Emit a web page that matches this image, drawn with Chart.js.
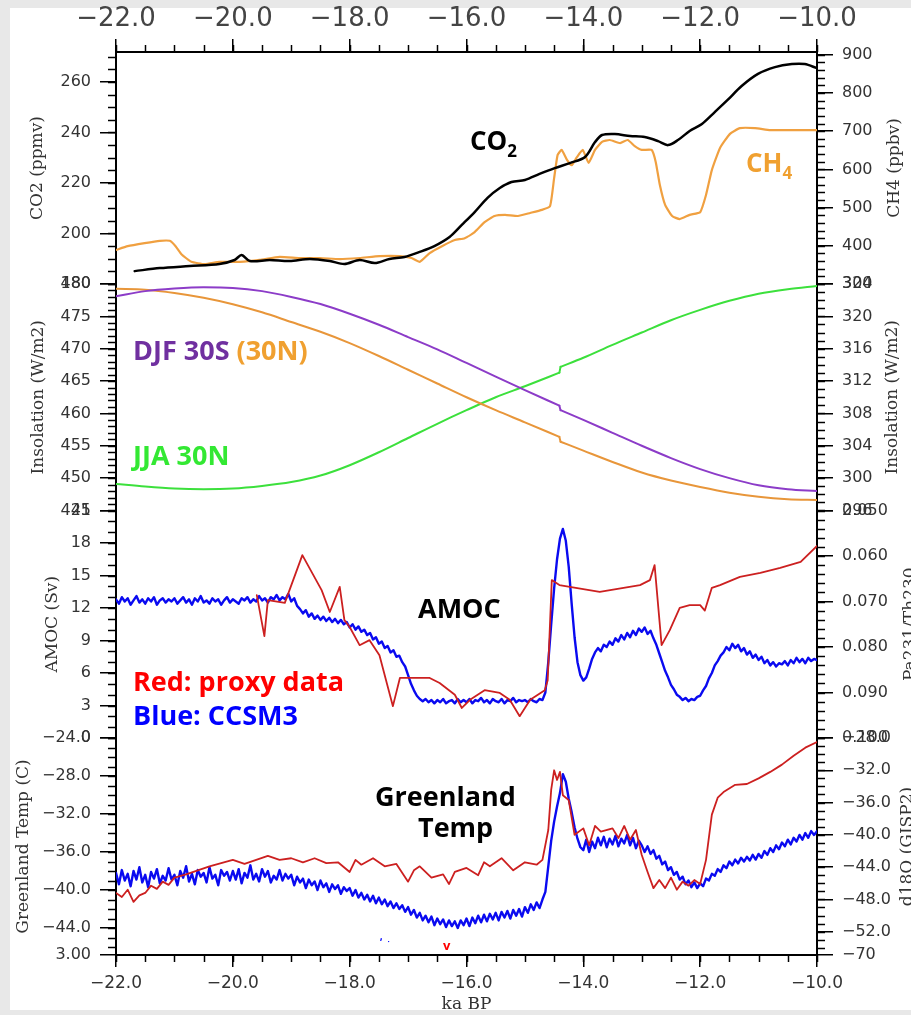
<!DOCTYPE html>
<html><head><meta charset="utf-8">
<script src="https://cdn.jsdelivr.net/npm/chart.js@4.4.1/dist/chart.umd.min.js"></script>
<style>html,body{margin:0;padding:0;background:#fff;}canvas{display:block;}</style>
</head><body>
<canvas id="c" width="911" height="1015"></canvas>
<script>
// ---------------- DATA ----------------
const xTickValues = [-22, -20, -18, -16, -14, -12, -10];
const xTickLabels = ['\u221222.0', '\u221220.0', '\u221218.0', '\u221216.0', '\u221214.0', '\u221212.0', '\u221210.0'];

const co2Ka = [-21.68,-21.25,-20.74,-20.23,-19.97,-19.85,-19.71,-19.37,-19.03,-18.68,-18.34,-18.09,-17.83,-17.57,-17.32,-17.06,-16.80,-16.55,-16.29,-16.08,-15.86,-15.64,-15.43,-15.23,-15.00,-14.75,-14.49,-14.23,-13.97,-13.80,-13.68,-13.46,-13.20,-12.95,-12.72,-12.55,-12.38,-12.18,-11.97,-11.75,-11.53,-11.29,-11.01,-10.72,-10.43,-10.21,-10.00];
const co2Ppmv = [185.1,186.3,187.1,187.9,189.5,191.5,189.1,189.5,189.1,189.9,189.1,187.9,189.5,188.3,189.9,190.7,192.7,195.0,198.6,203.4,208.5,214.1,218.0,220.4,221.2,223.6,225.9,227.9,230.3,236.2,239.0,239.4,238.6,238.2,236.6,235.0,237.0,240.6,243.4,248.1,252.9,258.4,263.2,265.9,267.1,267.1,265.5];

const ch4Ka = [-22.00,-21.80,-21.51,-21.25,-21.08,-20.98,-20.88,-20.71,-20.48,-20.23,-19.88,-19.54,-19.20,-18.86,-18.51,-18.17,-17.83,-17.49,-17.14,-16.94,-16.80,-16.63,-16.42,-16.20,-16.03,-15.86,-15.69,-15.52,-15.34,-15.12,-14.91,-14.71,-14.57,-14.50,-14.44,-14.37,-14.28,-14.20,-14.11,-14.01,-13.91,-13.80,-13.68,-13.55,-13.37,-13.24,-13.12,-13.00,-12.83,-12.76,-12.69,-12.60,-12.48,-12.35,-12.18,-12.00,-11.90,-11.80,-11.66,-11.49,-11.32,-11.06,-10.80,-10.46,-10.00];
const ch4Ppbv = [389,399,407,413,413,399,378,358,352,358,358,363,371,368,368,365,368,373,373,368,358,381,399,415,420,436,462,478,481,478,486,494,504,577,638,651,625,611,632,651,617,651,672,677,669,677,661,651,651,619,559,507,478,470,481,488,533,598,656,693,708,708,703,703,703];

const insKa = [-22,-21.5,-21,-20.5,-20,-19.5,-19,-18.5,-18,-17.5,-17,-16.5,-16,-15.5,-15,-14.41,-14.39,-14,-13.5,-13,-12.5,-12,-11.5,-11,-10.5,-10];
const djf30S = [478.1,478.9,479.3,479.5,479.4,478.9,478.0,476.9,475.4,473.7,471.8,469.9,467.8,465.7,463.6,461.2,460.5,459.0,457.0,455.0,453.1,451.4,450.0,448.9,448.3,448.0];
const djf30N = [323.4,323.3,322.9,322.3,321.5,320.5,319.3,318.1,316.7,315.1,313.4,311.7,310.0,308.4,306.9,305.1,304.5,303.4,302.0,300.7,299.7,298.9,298.2,297.7,297.4,297.3];
const jja30N = [449.1,448.7,448.4,448.3,448.4,448.8,449.4,450.4,452.0,454.0,456.2,458.4,460.5,462.5,464.2,466.3,467.2,468.6,470.6,472.5,474.4,476.0,477.4,478.5,479.2,479.7];
const insStepKa = -14.4;

const amocRedKa = [-19.59,-19.46,-19.40,-19.11,-18.81,-18.48,-18.34,-18.17,-18.09,-18.00,-17.83,-17.66,-17.49,-17.26,-17.14,-16.63,-16.46,-16.20,-16.08,-15.94,-15.69,-15.43,-15.26,-15.09,-14.91,-14.66,-14.61,-14.54,-14.41,-13.72,-13.03,-12.86,-12.78,-12.66,-12.52,-12.35,-12.18,-12.00,-11.92,-11.80,-11.66,-11.32,-10.97,-10.63,-10.28,-10.00];
const amocRedPaTh = [0.0686,0.0776,0.0697,0.0703,0.0598,0.0675,0.0723,0.0668,0.0741,0.0756,0.0796,0.0785,0.0818,0.0930,0.0868,0.0868,0.0879,0.0905,0.0934,0.0916,0.0895,0.0901,0.0916,0.0952,0.0916,0.0895,0.0873,0.0653,0.0664,0.0679,0.0664,0.0653,0.0620,0.0796,0.0763,0.0714,0.0708,0.0708,0.0720,0.0670,0.0664,0.0646,0.0637,0.0626,0.0613,0.0578];

// CCSM3 model output, sampled every 0.05 ka from -22 ka
const modelStartKa = -22;
const modelStepKa = 0.05;
const amocModelSv = [
12.8,12.4,13.0,12.6,12.9,12.3,12.7,13.1,12.5,12.8,12.4,12.9,12.6,13.0,12.3,12.7,12.9,12.5,12.8,12.6,
12.9,12.4,12.7,13.0,12.5,12.8,12.3,12.9,12.6,13.1,12.5,12.7,12.4,12.9,12.6,12.8,12.3,12.7,13.0,12.5,
12.8,12.6,12.4,12.9,12.7,13.0,12.5,12.8,12.6,13.1,12.7,12.9,12.5,13.0,12.8,13.2,12.7,13.0,12.8,13.3,
12.6,12.9,12.2,11.9,11.5,11.8,11.2,11.5,11.0,11.3,10.9,11.2,10.8,11.1,10.7,11.0,10.6,10.9,10.5,10.7,
10.2,10.5,10.0,10.3,9.8,10.0,9.5,9.7,9.1,9.3,8.7,8.9,8.3,8.5,7.9,8.1,7.5,7.6,7.0,6.6,
5.8,5.0,4.4,3.9,3.6,3.4,3.6,3.3,3.5,3.2,3.5,3.3,3.6,3.2,3.4,3.5,3.2,3.6,3.3,3.5,
3.3,3.6,3.2,3.5,3.4,3.7,3.3,3.5,3.2,3.6,3.4,3.3,3.6,3.2,3.5,3.4,3.7,3.3,3.5,3.4,
3.5,3.3,3.6,3.4,3.3,3.6,3.5,4.2,7.0,10.5,13.8,16.5,18.4,19.3,18.2,15.8,12.4,9.3,7.0,5.8,
5.3,5.6,6.4,7.3,7.9,8.3,8.0,8.6,8.4,8.9,8.6,9.2,8.9,9.5,9.1,9.7,9.3,9.9,9.5,10.1,
9.8,10.2,9.6,9.9,9.2,8.6,7.8,7.0,6.2,5.6,4.9,4.5,4.0,3.8,3.5,3.7,3.4,3.6,3.5,3.8,
3.9,4.4,4.8,5.5,6.0,6.7,7.1,7.6,7.9,8.4,8.1,8.7,8.3,8.6,8.0,8.3,7.7,8.0,7.4,7.7,
7.2,7.5,6.9,7.2,6.7,7.0,6.6,6.9,6.8,7.1,6.7,7.2,6.9,7.4,7.0,7.3,6.9,7.4,7.1,7.3,
7.2];
const tempModelC = [
-38.2,-39.4,-37.9,-39.0,-38.3,-39.6,-38.0,-38.9,-37.6,-39.2,-38.4,-39.7,-38.1,-38.8,-37.8,-39.3,-38.5,-39.0,-37.7,-38.9,
-38.4,-39.5,-38.0,-38.7,-37.5,-39.1,-38.3,-39.4,-37.9,-38.6,-38.2,-39.2,-37.6,-38.8,-38.4,-39.5,-37.9,-38.5,-38.1,-39.0,
-38.0,-38.9,-37.8,-39.3,-38.2,-38.7,-37.4,-38.9,-38.3,-39.1,-37.8,-38.6,-38.0,-39.2,-38.5,-38.9,-37.9,-39.0,-38.3,-38.8,
-38.4,-39.5,-38.6,-39.2,-38.8,-39.8,-38.9,-39.5,-39.1,-40.0,-39.0,-39.7,-39.3,-40.2,-39.4,-39.9,-39.5,-40.4,-39.7,-40.1,
-39.8,-40.6,-40.0,-40.8,-40.3,-41.0,-40.5,-41.2,-40.6,-41.4,-40.8,-41.5,-41.0,-41.7,-41.2,-41.9,-41.4,-42.0,-41.6,-42.3,
-41.8,-42.6,-42.1,-42.9,-42.4,-43.2,-42.7,-43.4,-42.8,-43.7,-43.0,-43.6,-43.1,-43.9,-43.2,-43.8,-43.3,-44.0,-43.2,-43.7,
-43.0,-43.8,-42.9,-43.5,-42.7,-43.4,-42.6,-43.3,-42.5,-43.1,-42.4,-43.2,-42.3,-42.9,-42.2,-43.0,-42.1,-42.7,-42.0,-42.8,
-41.8,-42.4,-41.5,-42.1,-41.3,-41.9,-41.0,-40.2,-37.5,-34.8,-32.8,-31.2,-29.8,-27.8,-28.6,-30.4,-31.8,-33.4,-34.6,-35.5,
-35.8,-34.7,-36.0,-34.9,-35.6,-34.5,-35.3,-34.4,-35.5,-34.6,-35.2,-34.3,-35.4,-34.6,-35.1,-34.2,-35.3,-34.5,-35.6,-34.8,
-35.3,-36.0,-35.4,-36.2,-35.8,-36.7,-36.4,-37.3,-37.0,-37.9,-37.6,-38.4,-38.1,-38.9,-38.6,-39.4,-39.0,-39.7,-39.2,-39.8,
-39.3,-39.6,-38.8,-39.0,-38.3,-38.5,-37.8,-38.1,-37.4,-37.7,-37.0,-37.4,-36.8,-37.2,-36.6,-37.0,-36.5,-36.9,-36.3,-36.8,
-36.2,-36.6,-35.9,-36.3,-35.6,-36.0,-35.3,-35.7,-35.0,-35.4,-34.7,-35.2,-34.5,-34.9,-34.2,-34.7,-34.0,-34.5,-33.8,-34.2,
-33.8];

const tempRedKa = [-22.0,-21.9,-21.8,-21.7,-21.6,-21.5,-21.4,-21.3,-21.2,-21.1,-21.0,-20.8,-20.6,-20.4,-20.2,-20.0,-19.8,-19.6,-19.4,-19.2,-19.0,-18.8,-18.6,-18.4,-18.2,-18.0,-17.9,-17.8,-17.6,-17.4,-17.2,-17.0,-16.9,-16.8,-16.6,-16.4,-16.3,-16.2,-16.0,-15.8,-15.7,-15.6,-15.4,-15.2,-15.0,-14.8,-14.7,-14.6,-14.55,-14.5,-14.45,-14.4,-14.35,-14.25,-14.15,-14.0,-13.9,-13.8,-13.7,-13.5,-13.4,-13.3,-13.2,-13.1,-13.0,-12.9,-12.8,-12.7,-12.6,-12.5,-12.4,-12.3,-12.2,-12.1,-12.0,-11.9,-11.8,-11.7,-11.6,-11.4,-11.2,-11.0,-10.8,-10.6,-10.4,-10.2,-10.0];
const tempRedD18O = [-47.2,-47.7,-46.8,-48.3,-47.5,-47.2,-46.3,-46.7,-45.8,-46.2,-45.3,-44.9,-44.4,-43.9,-43.5,-43.1,-43.6,-43.1,-42.6,-43.1,-42.9,-43.4,-42.9,-43.5,-43.4,-44.6,-43.1,-43.7,-42.9,-43.9,-43.6,-45.8,-44.4,-43.9,-45.3,-44.9,-46.1,-44.6,-44.1,-45.0,-43.4,-43.9,-42.9,-44.4,-43.4,-43.7,-43.1,-39.4,-34.4,-32.0,-33.2,-32.2,-35.1,-35.7,-40.0,-39.2,-41.3,-38.9,-39.6,-39.2,-40.4,-38.9,-40.6,-39.4,-42.5,-44.6,-46.6,-45.6,-46.6,-45.3,-46.8,-45.8,-46.3,-45.6,-46.1,-43.1,-37.5,-35.4,-34.7,-33.8,-33.7,-33.0,-32.2,-31.3,-30.2,-29.2,-28.5];

// axis tick values and labels
const co2Ticks = [180, 200, 220, 240, 260];
const co2Labels = ['180', '200', '220', '240', '260'];
const ch4Ticks = [300, 400, 500, 600, 700, 800, 900];
const ch4Labels = ['300', '400', '500', '600', '700', '800', '900'];
const insLTicks = [445, 450, 455, 460, 465, 470, 475, 480];
const insLLabels = ['445', '450', '455', '460', '465', '470', '475', '480'];
const insRTicks = [296, 300, 304, 308, 312, 316, 320, 324];
const insRLabels = ['296', '300', '304', '308', '312', '316', '320', '324'];
const amocTicks = [0, 3, 6, 9, 12, 15, 18, 21];
const amocLabels = ['0', '3', '6', '9', '12', '15', '18', '21'];
const paTicks = [0.05, 0.06, 0.07, 0.08, 0.09, 0.10];
const paLabels = ['0.050', '0.060', '0.070', '0.080', '0.090', '0.100'];
const tempTicks = [-46.84, -44, -40, -36, -32, -28, -24];
const tempLabels = ['3.00', '\u221244.0', '\u221240.0', '\u221236.0', '\u221232.0', '\u221228.0', '\u221224.0'];
const d18Ticks = [-54.89, -52, -48, -44, -40, -36, -32, -28];
const d18Labels = ['\u221270', '\u221252.0', '\u221248.0', '\u221244.0', '\u221240.0', '\u221236.0', '\u221232.0', '\u221228.0'];

// ---------------- CHART ----------------
const LEFT_W = 116, RIGHT_W = 94, TOP_H = 52, BOTTOM_H = 60;
const pts = (xs, ys) => xs.map((x, i) => ({x: x, y: ys[i]}));
const modelKa = amocModelSv.map((_, i) => +(modelStartKa + i * modelStepKa).toFixed(2));
const stepIdx = insKa.findIndex(k => k > insStepKa);
const before = a => a.slice(0, stepIdx), after = a => a.slice(stepIdx), joint = a => a.slice(stepIdx - 1, stepIdx + 1);

function yScale(o) {
  return {
    type: 'linear', position: o.pos,
    stack: o.pos === 'left' ? 'leftStack' : 'rightStack',
    stackWeight: o.sw, weight: o.w,
    min: o.min, max: o.max, reverse: !!o.reverse,
    afterBuildTicks: s => { s.ticks = o.ticks.map(v => ({value: v})); },
    afterFit: s => { s.width = o.pos === 'left' ? LEFT_W : RIGHT_W; },
    grid: {drawOnChartArea: false, drawTicks: true, tickLength: 16, color: '#000', lineWidth: 1.5},
    border: {display: true, color: '#000', width: 2},
    ticks: {autoSkip: false, font: {family: 'DejaVu Sans', size: 16}, color: '#333', padding: 9,
            callback: (v, i) => o.labels[i]},
    title: o.title ? {display: true, text: o.title, font: {family: 'DejaVu Serif', size: 17}, color: '#333',
            padding: {top: o.tp, bottom: 0}} : {display: false}
  };
}

const minorSteps = {co2: 5, ch4: 20, insL: 1, insR: 1, amoc: 1, pa: 0.002, tempL: 1, d18: 1, x: 0.5, x2: 0.5};

const framePlugin = {
  id: 'frame',
  beforeDraw(chart) {
    const c = chart.ctx;
    c.save();
    c.fillStyle = '#e8e8e8'; c.fillRect(0, 0, 911, 1015);
    c.fillStyle = '#ffffff'; c.fillRect(10, 8, 901, 1002);
    c.restore();
  },
  afterDraw(chart) {
    const c = chart.ctx;
    c.save();
    c.strokeStyle = '#000'; c.lineWidth = 1.5;
    for (const id in minorSteps) {
      const s = chart.scales[id]; const st = minorSteps[id];
      const lo = Math.min(s.min, s.max), hi = Math.max(s.min, s.max);
      const n0 = Math.ceil(lo / st - 1e-6), n1 = Math.floor(hi / st + 1e-6);
      for (let n = n0; n <= n1; n++) {
        const p = Math.round(s.getPixelForValue(n * st)) + 0.5;
        c.beginPath();
        if (s.position === 'left') { c.moveTo(s.right, p); c.lineTo(s.right - 8, p); }
        else if (s.position === 'right') { c.moveTo(s.left, p); c.lineTo(s.left + 8, p); }
        else if (s.position === 'top') { c.moveTo(p, s.bottom); c.lineTo(p, s.bottom - 7); }
        else { c.moveTo(p, s.top); c.lineTo(p, s.top + 7); }
        c.stroke();
      }
    }
    c.font = '17px "DejaVu Serif"'; c.fillStyle = '#333'; c.textAlign = 'center'; c.textBaseline = 'middle';
    const rt = [['ch4', 'CH4 (ppbv)', 895], ['insR', 'Insolation (W/m2)', 893], ['pa', 'Pa231/Th230', 911], ['d18', 'd18O (GISP2)', 908]];
    for (const [id, t, x] of rt) {
      const s = chart.scales[id];
      c.save(); c.translate(x, (s.top + s.bottom) / 2); c.rotate(-Math.PI / 2); c.fillText(t, 0, 0); c.restore();
    }
    const F = sz => 'bold ' + sz + 'px "Open Sans"';
    c.textAlign = 'left'; c.textBaseline = 'middle';
    const txt = (t, x, y, col, sz) => { c.font = F(sz); c.fillStyle = col; c.fillText(t, x, y); return x + c.measureText(t).width; };
    let e = txt('CO', 470, 143, '#000', 26); txt('2', e, 152, '#000', 17);
    e = txt('CH', 746, 165, '#F0A030', 26); txt('4', e, 174, '#F0A030', 17);
    e = txt('DJF 30S ', 133, 352, '#7030A0', 27); txt('(30N)', e, 352, '#F0A030', 27);
    txt('JJA 30N', 133, 457, '#33E833', 27);
    txt('AMOC', 418, 610, '#000', 27);
    txt('Red: proxy data', 133, 683, '#FF0000', 27);
    txt('Blue: CCSM3', 133, 717, '#0000FF', 27);
    txt('Greenland', 375, 798, '#000', 27);
    txt('Temp', 418, 829, '#000', 27);
    txt('v', 443, 946, '#FF0000', 13);
    txt('\u02bc  \u02d1', 380, 943, '#0000FF', 10);
    c.restore();
  }
};

function insDs(label, ys, axis, color) {
  const base = {label: label, yAxisID: axis, xAxisID: 'x', borderColor: color, borderWidth: 2, cubicInterpolationMode: 'monotone'};
  return [Object.assign({}, base, {data: pts(before(insKa), before(ys))}),
          Object.assign({}, base, {data: pts(joint(insKa), joint(ys)), cubicInterpolationMode: 'default', tension: 0}),
          Object.assign({}, base, {data: pts(after(insKa), after(ys))})];
}

function build() {
  new Chart(document.getElementById('c'), {
    type: 'line',
    data: {
      datasets: [
        {label: 'CO2', data: pts(co2Ka, co2Ppmv), yAxisID: 'co2', xAxisID: 'x', borderColor: '#000', borderWidth: 2.5, tension: 0.3},
        {label: 'CH4', data: pts(ch4Ka, ch4Ppbv), yAxisID: 'ch4', xAxisID: 'x', borderColor: '#F0A040', borderWidth: 2.2, tension: 0.15},
        ...insDs('DJF 30S', djf30S, 'insL', '#8C3CC8'),
        ...insDs('DJF 30N', djf30N, 'insR', '#E8963A'),
        ...insDs('JJA 30N', jja30N, 'insL', '#3CE03C'),
        {label: 'Pa/Th', data: pts(amocRedKa, amocRedPaTh), yAxisID: 'pa', xAxisID: 'x', borderColor: '#CC2020', borderWidth: 1.8},
        {label: 'AMOC', data: pts(modelKa, amocModelSv), yAxisID: 'amoc', xAxisID: 'x', borderColor: '#0A0AF0', borderWidth: 2.4},
        {label: 'd18O', data: pts(tempRedKa, tempRedD18O), yAxisID: 'd18', xAxisID: 'x', borderColor: '#CC2020', borderWidth: 1.8},
        {label: 'Temp', data: pts(modelKa, tempModelC), yAxisID: 'tempL', xAxisID: 'x', borderColor: '#0A0AF0', borderWidth: 2.4}
      ]
    },
    options: {
      responsive: false, animation: false, devicePixelRatio: 1,
      layout: {padding: 0},
      elements: {point: {radius: 0}, line: {borderJoinStyle: 'round', borderCapStyle: 'round', fill: false}},
      plugins: {legend: {display: false}, tooltip: {enabled: false}},
      scales: {
        x: {type: 'linear', position: 'bottom', min: -22, max: -10,
          afterBuildTicks: s => { s.ticks = xTickValues.map(v => ({value: v})); },
          afterFit: s => { s.height = BOTTOM_H; },
          grid: {drawOnChartArea: false, drawTicks: true, tickLength: 12, color: '#000', lineWidth: 1.5},
          border: {display: true, color: '#000', width: 2},
          ticks: {autoSkip: false, maxRotation: 0, font: {family: 'DejaVu Sans', size: 17}, color: '#333', padding: 6, callback: (v, i) => xTickLabels[i]},
          title: {display: true, text: 'ka BP', font: {family: 'DejaVu Serif', size: 17}, color: '#333', padding: {top: 0, bottom: 0}}},
        x2: {type: 'linear', position: 'top', min: -22, max: -10,
          afterBuildTicks: s => { s.ticks = xTickValues.map(v => ({value: v})); },
          afterFit: s => { s.height = TOP_H; },
          grid: {drawOnChartArea: false, drawTicks: true, tickLength: 13, color: '#000', lineWidth: 1.5},
          border: {display: true, color: '#000', width: 2},
          ticks: {autoSkip: false, maxRotation: 0, font: {family: 'DejaVu Sans', size: 26}, color: '#444', padding: 4, callback: (v, i) => xTickLabels[i]}},
        co2: yScale({pos: 'left', w: 4, sw: 232, min: 180, max: 271.88, ticks: co2Ticks, labels: co2Labels, title: 'CO2 (ppmv)', tp: 27}),
        insL: yScale({pos: 'left', w: 3, sw: 226.5, min: 445, max: 480, ticks: insLTicks, labels: insLLabels, title: 'Insolation (W/m2)', tp: 28}),
        amoc: yScale({pos: 'left', w: 2, sw: 227.5, min: 0, max: 21, ticks: amocTicks, labels: amocLabels, title: 'AMOC (Sv)', tp: 42}),
        tempL: yScale({pos: 'left', w: 1, sw: 217, min: -46.84, max: -24, ticks: tempTicks, labels: tempLabels, title: 'Greenland Temp (C)', tp: 13}),
        ch4: yScale({pos: 'right', w: 1, sw: 232, min: 300, max: 907.3, ticks: ch4Ticks, labels: ch4Labels}),
        insR: yScale({pos: 'right', w: 2, sw: 226.5, min: 296, max: 324, ticks: insRTicks, labels: insRLabels}),
        pa: yScale({pos: 'right', w: 3, sw: 227.5, min: 0.05, max: 0.10, reverse: true, ticks: paTicks, labels: paLabels}),
        d18: yScale({pos: 'right', w: 4, sw: 217, min: -54.89, max: -28, ticks: d18Ticks, labels: d18Labels})
      }
    },
    plugins: [framePlugin]
  });
}
const fontLoads = ['bold 27px "Open Sans"', '16px "DejaVu Sans"', '17px "DejaVu Serif"'].map(f => document.fonts.load(f).catch(() => null));
Promise.all(fontLoads).then(build, build);
</script>
</body></html>
